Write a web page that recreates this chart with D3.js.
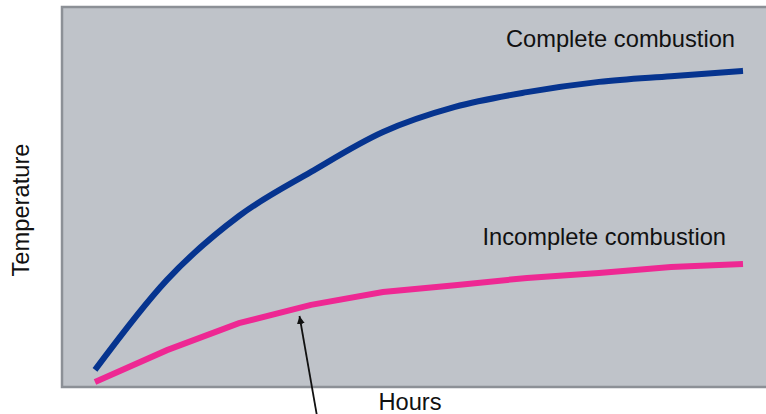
<!DOCTYPE html>
<html>
<head>
<meta charset="utf-8">
<script src="https://d3js.org/d3.v7.min.js"></script>
<style>
  body { margin: 0; background: #fff; }
  svg { display: block; font-family: "Liberation Sans", Arial, sans-serif; }
</style>
</head>
<body>
<div id="holder"></div>
<script>
  // Data (relative temperature, hours 0..9)
  const hours = [0, 1, 2, 3, 4, 5, 6, 7, 8, 9];
  const complete = [4.5, 28.2, 45, 56.6, 67.1, 73.7, 77.6, 80.3, 81.8, 83.2];
  const incomplete = [1.3, 9.7, 16.8, 21.6, 25, 26.8, 28.7, 30, 31.6, 32.4];
  const seriesNames = ['Complete combustion', 'Incomplete combustion'];

  const w = 766;
  const h = 414;
  const plot = { left: 62, top: 7, right: 766, bottom: 387 };

  const svg = d3.select('#holder').append('svg')
    .attr('width', w)
    .attr('height', h);

  const xScale = d3.scaleLinear()
    .domain([0, 9])
    .range([95, 743]);

  const yScale = d3.scaleLinear()
    .domain([0, 100])
    .range([plot.bottom, plot.top]);

  // Plot background
  svg.append('rect')
    .attr('x', plot.left)
    .attr('y', plot.top)
    .attr('width', plot.right - plot.left)
    .attr('height', plot.bottom - plot.top)
    .attr('fill', '#bfc3c9');

  // Frame (left, top, bottom)
  svg.append('path')
    .attr('d', `M${plot.right},${plot.top}H${plot.left}V${plot.bottom}H${plot.right}`)
    .attr('fill', 'none')
    .attr('stroke', '#8c9096')
    .attr('stroke-width', 2.5);

  const line = (curve) => d3.line()
    .x((d, i) => xScale(hours[i]))
    .y((d) => yScale(d))
    .curve(curve);

  svg.append('path')
    .datum(incomplete)
    .attr('d', line(d3.curveLinear))
    .attr('fill', 'none')
    .attr('stroke', '#ee2893')
    .attr('stroke-width', 6);

  svg.append('path')
    .datum(complete)
    .attr('d', line(d3.curveMonotoneX))
    .attr('fill', 'none')
    .attr('stroke', '#06348f')
    .attr('stroke-width', 6);

  // Series labels
  const fs = 23.7;
  svg.append('text')
    .attr('x', 735)
    .attr('y', 47)
    .attr('text-anchor', 'end')
    .attr('font-size', fs)
    .attr('fill', '#111')
    .text(seriesNames[0]);

  svg.append('text')
    .attr('x', 726)
    .attr('y', 245)
    .attr('text-anchor', 'end')
    .attr('font-size', fs)
    .attr('fill', '#111')
    .text(seriesNames[1]);

  // Axis labels
  svg.append('text')
    .attr('x', 410)
    .attr('y', 410)
    .attr('text-anchor', 'middle')
    .attr('font-size', fs)
    .attr('fill', '#111')
    .text('Hours');

  svg.append('text')
    .attr('transform', 'translate(29,210) rotate(-90)')
    .attr('text-anchor', 'middle')
    .attr('font-size', fs)
    .attr('fill', '#111')
    .text('Temperature');

  // Arrow pointing at the incomplete line
  svg.append('defs').append('marker')
    .attr('id', 'arrowhead')
    .attr('viewBox', '0 0 10 10')
    .attr('refX', 10)
    .attr('refY', 5)
    .attr('markerWidth', 8)
    .attr('markerHeight', 8)
    .attr('markerUnits', 'userSpaceOnUse')
    .attr('orient', 'auto')
    .append('path')
    .attr('d', 'M0,0L10,5L0,10Z')
    .attr('fill', '#111');

  svg.append('line')
    .attr('x1', 317)
    .attr('y1', 416)
    .attr('x2', xScale(2.84))
    .attr('y2', 316)
    .attr('stroke', '#111')
    .attr('stroke-width', 1.8)
    .attr('marker-end', 'url(#arrowhead)');
</script>
</body>
</html>
